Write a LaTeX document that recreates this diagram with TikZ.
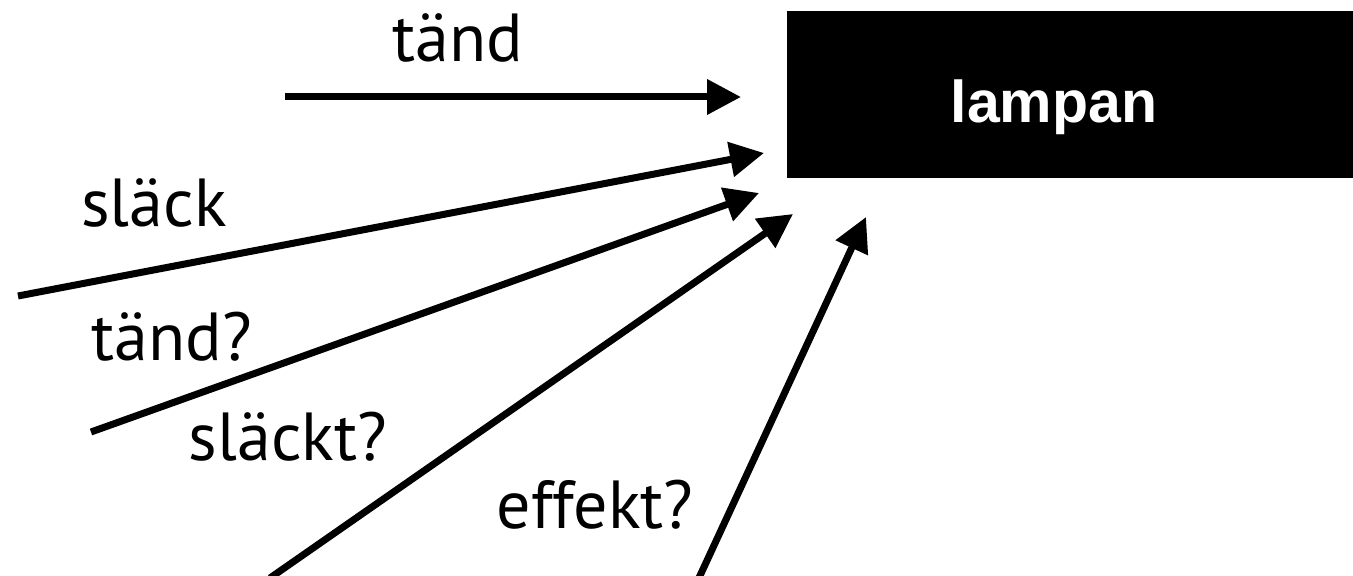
\documentclass[tikz,border=0pt]{standalone}
\usepackage{fontspec}
\setmainfont{PT Sans}
\newfontfamily\lampfont{Liberation Sans}
\usetikzlibrary{arrows.meta}
\begin{document}
\begin{tikzpicture}[x=0.5pt,y=-0.5pt,
  conn/.style={line width=3.5pt,-{Triangle[length=17pt,width=17pt]}},
  lbl/.style={anchor=base,inner sep=0pt,font=\fontsize{34}{40}\selectfont},
  lampbox/.style={fill=black,draw=none,inner sep=0pt,anchor=north west,minimum width=283pt,minimum height=83.5pt}]
\useasboundingbox (0,0) rectangle (1353,576);
\node[lampbox] (lamp) at (787,11) {};
\node[anchor=base,inner sep=0pt,text=white,font=\lampfont\bfseries\fontsize{29.5}{36}\selectfont] (lamptext) at (1054,123) {lampan};
% arrow endpoints
\coordinate (s1) at (285,97);  \coordinate (e1) at (741,97);
\coordinate (s2) at (18,296);  \coordinate (e2) at (764,153);
\coordinate (s3) at (91,432);  \coordinate (e3) at (759,193);
\coordinate (s4) at (270,578); \coordinate (e4) at (793,214);
\coordinate (s5) at (698,580); \coordinate (e5) at (866,217);
\draw[conn] (s1) -- (e1);
\draw[conn] (s2) -- (e2);
\draw[conn] (s3) -- (e3);
\draw[conn] (s4) -- (e4);
\draw[conn] (s5) -- (e5);
\node[lbl] (l1) at (458,62) {tänd};
\node[lbl] (l2) at (154,227) {släck};
\node[lbl] (l3) at (172,361) {tänd?};
\node[lbl] (l4) at (288,460) {släckt?};
\node[lbl] (l5) at (595,528) {effekt?};
\end{tikzpicture}
\end{document}
